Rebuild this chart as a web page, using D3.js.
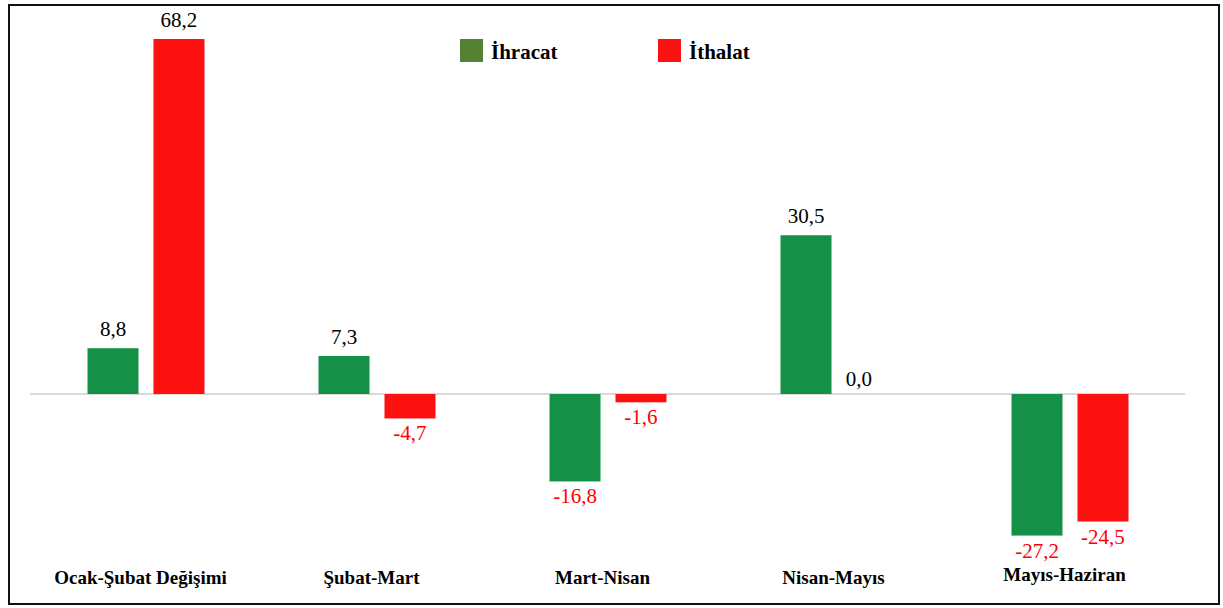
<!DOCTYPE html>
<html>
<head>
<meta charset="utf-8">
<script src="https://cdn.jsdelivr.net/npm/d3@7"></script>
<style>
    body { margin: 0; background: #fff; }
    svg { display: block; }
    text { font-family: "Liberation Serif", "Times New Roman", "DejaVu Serif", serif; }
</style>
</head>
<body>
<div id="chart"></div>
<script>
const categories = ["Ocak-Şubat Değişimi", "Şubat-Mart", "Mart-Nisan", "Nisan-Mayıs", "Mayıs-Haziran"];
const seriesNames = ["İhracat", "İthalat"];
const ihracat = [8.8, 7.3, -16.8, 30.5, -27.2];
const ithalat = [68.2, -4.7, -1.6, 0.0, -24.5];

const width = 1223, height = 608;
const barColors = ["#149147", "#fc1010"];
const legendColors = ["#548235", "#fc1010"];

const svg = d3.select("#chart")
    .append("svg")
    .attr("width", width)
    .attr("height", height);

// frame
svg.append("rect")
    .attr("x", 9).attr("y", 5)
    .attr("width", 1210).attr("height", 599)
    .attr("fill", "none")
    .attr("stroke", "#111")
    .attr("stroke-width", 2);

const x = d3.scaleBand()
    .domain(categories)
    .range([30, 1185]);

const xSub = d3.scaleBand()
    .domain(seriesNames)
    .range([-58, 59])
    .paddingInner(0.227);

const y = d3.scaleLinear()
    .domain([-30, 70])
    .range([394 + 30 * 5.205, 394 - 70 * 5.205]);

// Turkish style: comma decimal, plain hyphen for minus
const fmt = v => d3.format(".1f")(v).replace(".", ",").replace("\u2212", "-");

const rows = categories.map((c, i) => ({
    cat: c,
    vals: [
        { s: seriesNames[0], v: ihracat[i], k: 0 },
        { s: seriesNames[1], v: ithalat[i], k: 1 }
    ]
}));

// zero line
svg.append("line")
    .attr("x1", x.range()[0]).attr("x2", x.range()[1])
    .attr("y1", y(0)).attr("y2", y(0))
    .attr("stroke", "#d9d9d9")
    .attr("stroke-width", 2);

const g = svg.selectAll(".grp")
    .data(rows)
    .enter().append("g")
    .attr("class", "grp")
    .attr("transform", d => `translate(${x(d.cat) + x.bandwidth() / 2},0)`);

g.selectAll("rect")
    .data(d => d.vals)
    .enter().append("rect")
    .attr("x", d => xSub(d.s))
    .attr("width", xSub.bandwidth())
    .attr("y", d => y(Math.max(0, d.v)))
    .attr("height", d => Math.abs(y(d.v) - y(0)))
    .attr("fill", d => barColors[d.k]);

g.selectAll(".val")
    .data(d => d.vals)
    .enter().append("text")
    .attr("class", "val")
    .attr("x", d => xSub(d.s) + xSub.bandwidth() / 2 + (d.v === 0 ? -13 : 0))
    .attr("y", d => d.v >= 0 ? y(d.v) - (d.v === 0 ? 8 : 12) : y(d.v) + 22)
    .attr("text-anchor", "middle")
    .attr("font-size", 21)
    .attr("fill", d => d.v >= 0 ? "#000" : "#ff0000")
    .text(d => fmt(d.v));

// category labels
svg.selectAll(".cat")
    .data(categories)
    .enter().append("text")
    .attr("class", "cat")
    .attr("x", d => x(d) + x.bandwidth() / 2 - 5)
    .attr("y", (d, i) => i === categories.length - 1 ? 581 : 584)
    .attr("text-anchor", "middle")
    .attr("font-weight", "bold")
    .attr("font-size", 19)
    .attr("fill", "#000")
    .text(d => d);

// legend
const legend = svg.selectAll(".leg")
    .data(seriesNames)
    .enter().append("g")
    .attr("class", "leg")
    .attr("transform", (d, i) => `translate(${460 + i * 198},39)`);

legend.append("rect")
    .attr("width", 23).attr("height", 23)
    .attr("fill", (d, i) => legendColors[i]);

legend.append("text")
    .attr("x", 31).attr("y", 20)
    .attr("font-weight", "bold")
    .attr("font-size", 21)
    .attr("fill", "#000")
    .text(d => d);
</script>
</body>
</html>
